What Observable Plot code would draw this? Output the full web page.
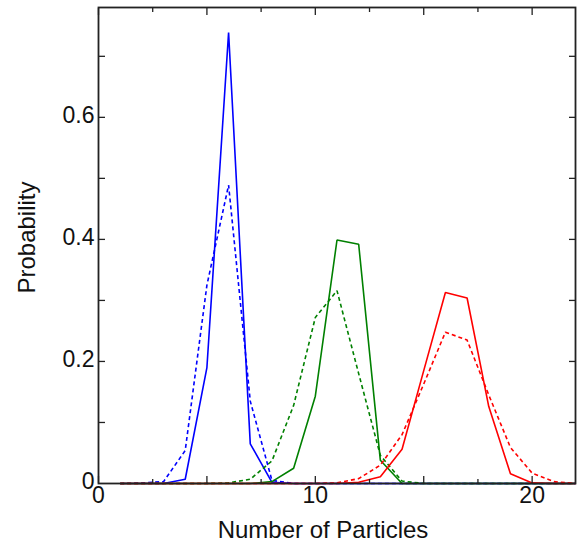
<!DOCTYPE html>
<html>
<head>
<meta charset="utf-8">
<script src="https://cdn.jsdelivr.net/npm/d3@7"></script>
<script src="https://cdn.jsdelivr.net/npm/@observablehq/plot@0.6"></script>
<style>
  html, body { margin: 0; padding: 0; background: #fff; }
  #chart svg { display: block; }
</style>
</head>
<body>
<div id="chart"></div>
<script>
// Number of particles (x)
const particles = [1, 2, 3, 4, 5, 6, 7, 8, 9, 10, 11, 12, 13, 14, 15, 16, 17, 18, 19, 20, 21, 22];

// Probabilities
const blueSolid   = [0, 0, 0, 0.007, 0.19, 0.739, 0.065, 0.002, 0, 0, 0, 0, 0, 0, 0, 0, 0, 0, 0, 0, 0, 0];
const blueDashed  = [0, 0.001, 0.003, 0.054, 0.325, 0.489, 0.135, 0.005, 0, 0, 0, 0, 0, 0, 0, 0, 0, 0, 0, 0, 0, 0];
const greenSolid  = [0, 0, 0, 0, 0, 0, 0, 0.003, 0.025, 0.143, 0.399, 0.392, 0.038, 0, 0, 0, 0, 0, 0, 0, 0, 0];
const greenDashed = [0, 0, 0, 0, 0, 0.001, 0.007, 0.037, 0.128, 0.272, 0.316, 0.18, 0.046, 0.004, 0, 0, 0, 0, 0, 0, 0, 0];
const redSolid    = [0, 0, 0, 0, 0, 0, 0, 0, 0, 0, 0, 0.002, 0.011, 0.056, 0.185, 0.313, 0.304, 0.126, 0.016, 0.001, 0, 0];
const redDashed   = [0, 0, 0, 0, 0, 0, 0, 0, 0, 0, 0.001, 0.008, 0.03, 0.08, 0.163, 0.248, 0.235, 0.145, 0.059, 0.017, 0.003, 0];

// Ticks
const xMajorTicks = [0, 5, 10, 15, 20];
const xMinorTicks = [2.5, 7.5, 12.5, 17.5];
const xLabelTicks = [0, 10, 20];
const yTicks = [0.1, 0.2, 0.3, 0.4, 0.5, 0.6, 0.7];
const yLabelTicks = [0, 0.2, 0.4, 0.6];

const xTitle = "Number of Particles";
const yTitle = "Probability";

const seriesDefs = [
  {name: "blueSolid",   values: blueSolid,   color: "#0000ff", dash: null},
  {name: "blueDashed",  values: blueDashed,  color: "#0000ff", dash: "4,3"},
  {name: "greenSolid",  values: greenSolid,  color: "#008000", dash: null},
  {name: "greenDashed", values: greenDashed, color: "#008000", dash: "4,3"},
  {name: "redSolid",    values: redSolid,    color: "#ff0000", dash: null},
  {name: "redDashed",   values: redDashed,   color: "#ff0000", dash: "4,3"}
];

const lineMarks = seriesDefs.map(s =>
  Plot.line(particles.map((p, i) => ({x: p, y: s.values[i]})), {
    x: "x", y: "y", stroke: s.color, strokeWidth: 1.6,
    strokeDasharray: s.dash, strokeLinejoin: "miter", strokeLinecap: "butt"
  })
);

const axisColor = "#222";
const tickOpts = {label: null, text: null, fill: "none", stroke: axisColor, strokeWidth: 1.3};

const chart = Plot.plot({
  width: 585,
  height: 544,
  marginLeft: 98,
  marginRight: 10,
  marginTop: 7,
  marginBottom: 61,
  x: {domain: [0, 22]},
  y: {domain: [0, 0.78]},
  style: {fontFamily: "'Liberation Sans', Arial, Helvetica, sans-serif", fontSize: "23px", color: "#111", background: "#fff"},
  marks: [
    ...lineMarks,
    // inward ticks, bottom and top
    Plot.axisX({anchor: "bottom", ticks: xMajorTicks, tickSize: -7, ...tickOpts}),
    Plot.axisX({anchor: "bottom", ticks: xMinorTicks, tickSize: -4, ...tickOpts}),
    Plot.axisX({anchor: "top", ticks: xMajorTicks, tickSize: -7, ...tickOpts}),
    Plot.axisX({anchor: "top", ticks: xMinorTicks, tickSize: -4, ...tickOpts}),
    // inward ticks, left and right
    Plot.axisY({anchor: "left", ticks: yTicks, tickSize: -7, ...tickOpts}),
    Plot.axisY({anchor: "right", ticks: yTicks, tickSize: -7, ...tickOpts}),
    // tick labels
    Plot.axisX({anchor: "bottom", ticks: xLabelTicks, tickSize: 0, tickPadding: 3, tickFormat: d => String(d),
      label: null, fontSize: 23}),
    Plot.axisY({anchor: "left", ticks: yLabelTicks, tickSize: 0, tickPadding: 4, dy: -2, tickFormat: d => String(d),
      label: null, fontSize: 23}),
    // axis titles
    Plot.text([xTitle], {frameAnchor: "bottom", dx: -14, dy: 37, lineAnchor: "top", textAnchor: "middle", fontSize: 24, fill: "#111"}),
    Plot.text([yTitle], {frameAnchor: "left", rotate: -90, dx: -81, dy: -8, lineAnchor: "top", textAnchor: "middle", fontSize: 24, fill: "#111"}),
    Plot.frame({stroke: axisColor, strokeWidth: 1.8})
  ]
});

document.getElementById("chart").appendChild(chart);
</script>
</body>
</html>
